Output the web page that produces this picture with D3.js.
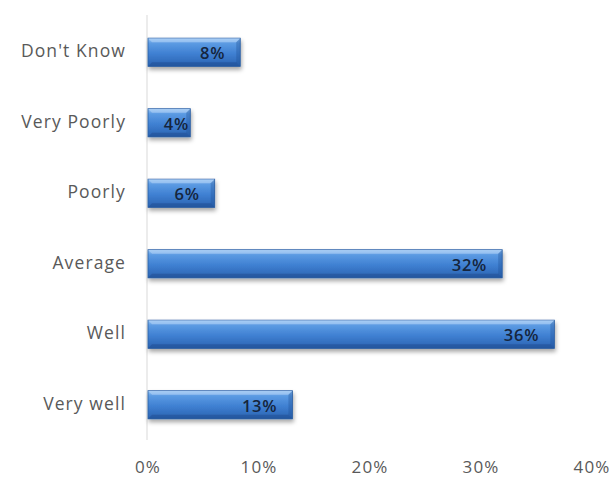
<!DOCTYPE html>
<html>
<head>
<meta charset="utf-8">
<script src="https://cdn.jsdelivr.net/npm/d3@7"></script>
<style>
  body { margin: 0; background: #fff; }
  svg { display: block; }
</style>
</head>
<body>
<div id="chart"></div>
<script>
// Survey responses, top to bottom
const categories = ["Don't Know", "Very Poorly", "Poorly", "Average", "Well", "Very well"];
const values = [0.084, 0.039, 0.061, 0.32, 0.367, 0.131];
const valueLabels = ["8%", "4%", "6%", "32%", "36%", "13%"];
const xTicks = [0, 0.1, 0.2, 0.3, 0.4];

const width = 615, height = 477;
const margin = { top: 17, right: 25, bottom: 37, left: 147 };
const font = "Open Sans, sans-serif";

const svg = d3.select("#chart").append("svg")
  .attr("width", width)
  .attr("height", height);

const defs = svg.append("defs");

const grad = defs.append("linearGradient")
  .attr("id", "barGrad")
  .attr("x1", 0).attr("y1", 0).attr("x2", 0).attr("y2", 1);
[
  ["0%", "#9cc6f2"],
  ["18%", "#5c9be3"],
  ["55%", "#3f80d2"],
  ["100%", "#2a62b0"]
].forEach(([o, c]) => grad.append("stop").attr("offset", o).attr("stop-color", c));

const shadow = defs.append("filter")
  .attr("id", "shadow")
  .attr("x", "-10%").attr("y", "-20%").attr("width", "130%").attr("height", "160%");
shadow.append("feDropShadow")
  .attr("dx", 1).attr("dy", 3).attr("stdDeviation", 2)
  .attr("flood-color", "#000").attr("flood-opacity", 0.35);

const x = d3.scaleLinear()
  .domain([0, 0.4])
  .range([margin.left, margin.left + 444]);

const y = d3.scaleBand()
  .domain(categories)
  .range([margin.top, height - margin.bottom])
  .paddingInner(0.6)
  .paddingOuter(0.3);

// vertical axis line
svg.append("line")
  .attr("x1", x(0)).attr("x2", x(0))
  .attr("y1", margin.top - 2).attr("y2", height - margin.bottom)
  .attr("stroke", "#d9d9d9")
  .attr("stroke-width", 1);

// category labels
svg.append("g")
  .selectAll("text")
  .data(categories)
  .join("text")
  .attr("x", x(0) - 21)
  .attr("y", d => y(d) + y.bandwidth() / 2 - 1)
  .attr("dy", "0.35em")
  .attr("text-anchor", "end")
  .attr("font-family", font)
  .attr("font-size", 17.5)
  .attr("letter-spacing", 1.1)
  .attr("fill", "#595959")
  .text(d => d);

// x tick labels
svg.append("g")
  .selectAll("text")
  .data(xTicks)
  .join("text")
  .attr("x", d => x(d) + 1)
  .attr("y", 467)
  .attr("dy", "0.35em")
  .attr("text-anchor", "middle")
  .attr("font-family", font)
  .attr("font-size", 17)
  .attr("letter-spacing", 1.1)
  .attr("fill", "#595959")
  .text(d3.format(".0%"));

// bars
const bars = svg.append("g")
  .selectAll("g")
  .data(categories.map((c, i) => ({ c, v: values[i], label: valueLabels[i] })))
  .join("g");

bars.append("rect")
  .attr("x", x(0) + 1)
  .attr("y", d => y(d.c))
  .attr("width", d => x(d.v) - x(0) - 1)
  .attr("height", y.bandwidth())
  .attr("fill", "url(#barGrad)")
  .attr("stroke", "#2b5fa3")
  .attr("stroke-width", 0.8)
  .attr("filter", "url(#shadow)");

// bevel highlights on top, right and bottom
const bev = 4;
bars.append("path")
  .attr("d", d => {
    const x0 = x(0) + 1, x1 = x(d.v), y0 = y(d.c);
    return `M${x0},${y0} L${x1},${y0} L${x1 - bev},${y0 + bev} L${x0 + bev},${y0 + bev} Z`;
  })
  .attr("fill", "#b6d6f7")
  .attr("opacity", 0.55);

bars.append("path")
  .attr("d", d => {
    const x1 = x(d.v), y0 = y(d.c), y1 = y0 + y.bandwidth();
    return `M${x1},${y0} L${x1},${y1} L${x1 - bev},${y1 - bev} L${x1 - bev},${y0 + bev} Z`;
  })
  .attr("fill", "#1f4f94")
  .attr("opacity", 0.35);

bars.append("path")
  .attr("d", d => {
    const x0 = x(0) + 1, x1 = x(d.v), y0 = y(d.c), y1 = y0 + y.bandwidth();
    return `M${x0},${y1} L${x1},${y1} L${x1 - bev},${y1 - bev} L${x0 + bev},${y1 - bev} Z`;
  })
  .attr("fill", "#1d4a8c")
  .attr("opacity", 0.45);

// value labels, inside end of each bar
bars.append("text")
  .attr("x", d => Math.max(x(d.v) - 15, x(0) + 42))
  .attr("y", d => y(d.c) + y.bandwidth() / 2 + 1)
  .attr("dy", "0.35em")
  .attr("text-anchor", "end")
  .attr("font-family", font)
  .attr("font-size", 16.5)
  .attr("font-weight", 600)
  .attr("letter-spacing", 0.8)
  .attr("fill", "#15253d")
  .text(d => d.label);
</script>
</body>
</html>
